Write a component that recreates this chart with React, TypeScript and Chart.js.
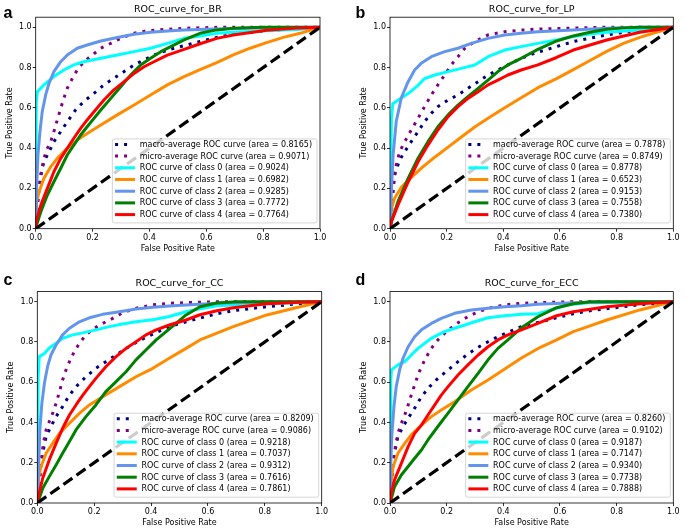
import React, { useEffect, useRef } from "react";
import { Chart, registerables } from "chart.js";

Chart.register(...registerables);

// ---------- data ----------
const TITLES = ["ROC_curve_for_BR", "ROC_curve_for_LP", "ROC_curve_for_CC", "ROC_curve_for_ECC"];
const LETTERS = ["a", "b", "c", "d"];
const TICKS = [0, 0.2, 0.4, 0.6, 0.8, 1.0];
const CURVE_NAMES = [
  "macro-average ROC curve",
  "micro-average ROC curve",
  "ROC curve of class 0",
  "ROC curve of class 1",
  "ROC curve of class 2",
  "ROC curve of class 3",
  "ROC curve of class 4",
];
const COLORS = ["navy", "purple", "aqua", "darkorange", "cornflowerblue", "green", "red"];
const DIAGONAL = [[0, 0], [1, 1]];

const BR_AUC = [0.8165, 0.9071, 0.9024, 0.6982, 0.9285, 0.7772, 0.7764];
const LP_AUC = [0.7878, 0.8749, 0.8778, 0.6523, 0.9153, 0.7558, 0.738];
const CC_AUC = [0.8209, 0.9086, 0.9218, 0.7037, 0.9312, 0.7616, 0.7861];
const ECC_AUC = [0.826, 0.9102, 0.9187, 0.7147, 0.934, 0.7738, 0.7888];

// BR
const BR_MACRO = [[0,0],[0.006,0.134],[0.018,0.267],[0.029,0.333],[0.047,0.382],[0.064,0.432],[0.088,0.482],[0.111,0.531],[0.14,0.589],[0.169,0.631],[0.205,0.672],[0.24,0.714],[0.275,0.747],[0.311,0.78],[0.346,0.813],[0.381,0.838],[0.416,0.862],[0.463,0.887],[0.522,0.909],[0.578,0.929],[0.637,0.95],[0.695,0.965],[0.812,0.983],[0.93,0.993],[1,1]];
const BR_MICRO = [[0,0],[0.006,0.101],[0.012,0.2],[0.02,0.283],[0.029,0.349],[0.041,0.399],[0.053,0.432],[0.064,0.482],[0.076,0.54],[0.088,0.598],[0.099,0.647],[0.111,0.697],[0.129,0.746],[0.146,0.788],[0.169,0.829],[0.199,0.862],[0.229,0.896],[0.264,0.92],[0.299,0.945],[0.346,0.97],[0.393,0.983],[0.463,0.99],[0.522,0.995],[0.65,1],[1,1]];
const BR_C0 = [[0,0],[0.002,0.63],[0.006,0.68],[0.029,0.714],[0.064,0.755],[0.099,0.788],[0.134,0.813],[0.169,0.829],[0.229,0.846],[0.287,0.862],[0.346,0.879],[0.404,0.896],[0.463,0.92],[0.522,0.945],[0.578,0.957],[0.637,0.97],[0.695,0.975],[0.812,0.983],[0.93,0.99],[1,1]];
const BR_C1 = [[0,0],[0.003,0.134],[0.012,0.183],[0.029,0.25],[0.053,0.308],[0.076,0.349],[0.111,0.399],[0.146,0.44],[0.181,0.473],[0.229,0.515],[0.287,0.565],[0.346,0.614],[0.404,0.664],[0.463,0.714],[0.522,0.755],[0.578,0.79],[0.637,0.825],[0.695,0.863],[0.754,0.896],[0.812,0.924],[0.871,0.95],[0.93,0.97],[1,1]];
const BR_C2 = [[0,0],[0.003,0.2],[0.008,0.366],[0.015,0.482],[0.023,0.581],[0.035,0.664],[0.047,0.722],[0.064,0.78],[0.088,0.829],[0.111,0.862],[0.146,0.896],[0.181,0.912],[0.229,0.932],[0.287,0.949],[0.346,0.965],[0.404,0.975],[0.463,0.982],[0.522,0.987],[0.6,0.99],[0.7,0.994],[0.8,0.998],[1,1]];
const BR_C3 = [[0,0],[0.003,0.018],[0.018,0.084],[0.041,0.167],[0.064,0.233],[0.088,0.3],[0.111,0.366],[0.134,0.415],[0.158,0.465],[0.181,0.506],[0.205,0.548],[0.229,0.589],[0.264,0.647],[0.299,0.705],[0.334,0.763],[0.369,0.813],[0.404,0.846],[0.44,0.879],[0.475,0.904],[0.522,0.937],[0.578,0.97],[0.637,0.987],[0.695,0.995],[0.8,1],[1,1]];
const BR_C4 = [[0,0],[0.003,0.043],[0.018,0.117],[0.041,0.2],[0.064,0.283],[0.088,0.349],[0.111,0.399],[0.134,0.449],[0.158,0.498],[0.181,0.54],[0.205,0.581],[0.24,0.639],[0.275,0.689],[0.311,0.73],[0.346,0.771],[0.381,0.804],[0.416,0.829],[0.463,0.862],[0.522,0.89],[0.578,0.918],[0.637,0.945],[0.695,0.962],[0.812,0.985],[0.93,0.997],[1,1]];

// LP
const LP_MACRO = [[0,0],[0.007,0.134],[0.016,0.266],[0.034,0.341],[0.052,0.382],[0.075,0.432],[0.099,0.482],[0.122,0.532],[0.146,0.573],[0.169,0.606],[0.205,0.639],[0.24,0.664],[0.275,0.697],[0.311,0.73],[0.346,0.763],[0.381,0.788],[0.416,0.813],[0.463,0.846],[0.51,0.871],[0.647,0.929],[0.765,0.962],[0.882,0.987],[1,1]];
const LP_MICRO = [[0,0],[0.005,0.068],[0.011,0.2],[0.019,0.3],[0.034,0.382],[0.052,0.432],[0.075,0.49],[0.099,0.548],[0.122,0.606],[0.146,0.664],[0.169,0.714],[0.193,0.763],[0.216,0.813],[0.24,0.854],[0.264,0.896],[0.299,0.929],[0.346,0.962],[0.405,0.978],[0.463,0.986],[0.522,0.991],[0.75,1],[1,1]];
const LP_C0 = [[0,0],[0.003,0.3],[0.005,0.55],[0.01,0.62],[0.028,0.638],[0.064,0.671],[0.099,0.712],[0.122,0.745],[0.158,0.763],[0.205,0.78],[0.252,0.796],[0.299,0.813],[0.346,0.854],[0.405,0.887],[0.463,0.904],[0.522,0.92],[0.588,0.937],[0.647,0.954],[0.706,0.967],[0.765,0.975],[0.882,0.987],[1,1]];
const LP_C1 = [[0,0],[0.005,0.1],[0.016,0.151],[0.04,0.205],[0.075,0.255],[0.11,0.3],[0.158,0.355],[0.205,0.405],[0.252,0.455],[0.299,0.505],[0.346,0.548],[0.405,0.6],[0.463,0.65],[0.522,0.7],[0.588,0.745],[0.647,0.79],[0.706,0.835],[0.765,0.88],[0.824,0.92],[0.882,0.95],[0.94,0.975],[1,1]];
const LP_C2 = [[0,0],[0.003,0.134],[0.011,0.366],[0.022,0.532],[0.04,0.65],[0.064,0.73],[0.087,0.788],[0.11,0.821],[0.146,0.854],[0.193,0.879],[0.24,0.896],[0.287,0.92],[0.346,0.945],[0.405,0.962],[0.463,0.97],[0.522,0.978],[0.647,0.987],[0.765,0.995],[0.882,1],[1,1]];
const LP_C3 = [[0,0],[0.005,0.035],[0.028,0.134],[0.064,0.25],[0.099,0.35],[0.134,0.432],[0.169,0.506],[0.205,0.565],[0.24,0.614],[0.275,0.656],[0.311,0.697],[0.346,0.738],[0.381,0.78],[0.416,0.813],[0.463,0.846],[0.522,0.89],[0.588,0.932],[0.647,0.957],[0.706,0.975],[0.765,0.99],[0.824,0.997],[0.882,1],[1,1]];
const LP_C4 = [[0,0],[0.005,0.035],[0.028,0.117],[0.064,0.232],[0.099,0.332],[0.134,0.415],[0.169,0.49],[0.205,0.556],[0.24,0.606],[0.275,0.647],[0.311,0.68],[0.346,0.714],[0.381,0.738],[0.416,0.763],[0.463,0.788],[0.522,0.813],[0.588,0.85],[0.647,0.887],[0.765,0.937],[0.882,0.975],[1,1]];

// CC
const CC_MACRO = [[0,0],[0.007,0.131],[0.019,0.247],[0.031,0.33],[0.048,0.38],[0.066,0.429],[0.089,0.479],[0.113,0.536],[0.142,0.586],[0.171,0.627],[0.206,0.669],[0.241,0.702],[0.277,0.735],[0.312,0.768],[0.347,0.797],[0.382,0.823],[0.418,0.846],[0.464,0.876],[0.523,0.9],[0.572,0.918],[0.631,0.94],[0.689,0.955],[0.807,0.975],[0.924,0.99],[1,1]];
const CC_MICRO = [[0,0],[0.007,0.064],[0.013,0.197],[0.021,0.296],[0.031,0.363],[0.042,0.404],[0.054,0.445],[0.066,0.495],[0.078,0.553],[0.089,0.611],[0.101,0.661],[0.113,0.702],[0.13,0.752],[0.148,0.793],[0.171,0.835],[0.2,0.868],[0.23,0.892],[0.265,0.917],[0.3,0.945],[0.347,0.967],[0.406,0.984],[0.464,0.992],[0.523,0.995],[0.65,1],[1,1]];
const CC_C0 = [[0,0],[0.003,0.627],[0.007,0.727],[0.025,0.743],[0.042,0.77],[0.066,0.793],[0.089,0.818],[0.124,0.835],[0.16,0.845],[0.206,0.86],[0.253,0.876],[0.3,0.889],[0.347,0.9],[0.406,0.91],[0.464,0.926],[0.523,0.95],[0.572,0.965],[0.631,0.98],[0.689,0.984],[0.807,0.99],[1,1]];
const CC_C1 = [[0,0],[0.005,0.131],[0.013,0.18],[0.031,0.247],[0.054,0.296],[0.078,0.346],[0.113,0.396],[0.148,0.445],[0.183,0.487],[0.23,0.528],[0.289,0.578],[0.347,0.627],[0.406,0.669],[0.464,0.719],[0.523,0.768],[0.572,0.81],[0.689,0.876],[0.807,0.934],[0.924,0.975],[1,1]];
const CC_C2 = [[0,0],[0.001,0.031],[0.005,0.197],[0.009,0.363],[0.016,0.495],[0.025,0.595],[0.036,0.677],[0.048,0.735],[0.066,0.785],[0.089,0.835],[0.113,0.868],[0.148,0.9],[0.183,0.92],[0.23,0.937],[0.289,0.95],[0.347,0.964],[0.406,0.972],[0.464,0.979],[0.523,0.984],[0.65,0.993],[0.8,0.998],[1,1]];
const CC_C3 = [[0,0],[0.005,0.015],[0.019,0.073],[0.042,0.131],[0.066,0.189],[0.089,0.247],[0.113,0.305],[0.136,0.363],[0.171,0.429],[0.206,0.487],[0.241,0.553],[0.277,0.603],[0.312,0.652],[0.347,0.711],[0.382,0.76],[0.418,0.81],[0.453,0.851],[0.488,0.892],[0.523,0.934],[0.572,0.975],[0.631,0.993],[0.7,1],[1,1]];
const CC_C4 = [[0,0],[0.005,0.04],[0.019,0.123],[0.042,0.214],[0.066,0.296],[0.089,0.371],[0.113,0.437],[0.136,0.487],[0.16,0.536],[0.183,0.578],[0.206,0.619],[0.241,0.677],[0.277,0.727],[0.312,0.768],[0.347,0.801],[0.382,0.835],[0.418,0.86],[0.464,0.884],[0.523,0.909],[0.572,0.935],[0.631,0.955],[0.689,0.97],[0.807,0.99],[0.924,0.997],[1,1]];

// ECC
const ECC_MACRO = [[0,0],[0.005,0.131],[0.016,0.247],[0.028,0.33],[0.046,0.38],[0.064,0.421],[0.087,0.471],[0.111,0.528],[0.14,0.578],[0.169,0.619],[0.205,0.661],[0.24,0.702],[0.275,0.74],[0.311,0.773],[0.346,0.801],[0.381,0.826],[0.416,0.848],[0.464,0.876],[0.522,0.897],[0.588,0.92],[0.647,0.94],[0.706,0.955],[0.765,0.965],[0.882,0.985],[1,1]];
const ECC_MICRO = [[0,0],[0.005,0.064],[0.011,0.197],[0.019,0.28],[0.028,0.346],[0.04,0.396],[0.052,0.437],[0.064,0.487],[0.075,0.536],[0.087,0.586],[0.099,0.636],[0.111,0.677],[0.129,0.727],[0.146,0.768],[0.169,0.81],[0.199,0.851],[0.228,0.884],[0.264,0.917],[0.299,0.942],[0.346,0.967],[0.405,0.984],[0.464,0.992],[0.522,0.995],[0.65,1],[1,1]];
const ECC_C0 = [[0,0],[0.003,0.611],[0.005,0.661],[0.028,0.686],[0.052,0.702],[0.075,0.735],[0.099,0.768],[0.122,0.793],[0.146,0.818],[0.169,0.835],[0.193,0.851],[0.228,0.868],[0.264,0.884],[0.299,0.9],[0.346,0.92],[0.405,0.93],[0.464,0.937],[0.522,0.94],[0.57,0.96],[0.63,0.985],[0.7,0.995],[1,1]];
const ECC_C1 = [[0,0],[0.003,0.098],[0.011,0.18],[0.028,0.247],[0.052,0.296],[0.075,0.338],[0.111,0.387],[0.146,0.429],[0.181,0.462],[0.228,0.503],[0.287,0.561],[0.346,0.611],[0.405,0.665],[0.464,0.72],[0.529,0.772],[0.588,0.81],[0.647,0.851],[0.706,0.88],[0.765,0.909],[0.882,0.959],[1,1]];
const ECC_C2 = [[0,0],[0.001,0.031],[0.003,0.197],[0.007,0.346],[0.014,0.479],[0.022,0.578],[0.034,0.661],[0.046,0.719],[0.064,0.776],[0.087,0.826],[0.111,0.86],[0.146,0.892],[0.181,0.917],[0.228,0.942],[0.287,0.959],[0.346,0.967],[0.405,0.975],[0.464,0.98],[0.522,0.987],[0.65,0.995],[0.8,1],[1,1]];
const ECC_C3 = [[0,0],[0.003,0.015],[0.016,0.081],[0.04,0.139],[0.064,0.181],[0.087,0.222],[0.111,0.263],[0.134,0.313],[0.169,0.38],[0.205,0.446],[0.24,0.512],[0.275,0.578],[0.311,0.644],[0.346,0.711],[0.381,0.768],[0.416,0.81],[0.464,0.87],[0.522,0.925],[0.588,0.97],[0.647,0.99],[0.706,1],[1,1]];
const ECC_C4 = [[0,0],[0.003,0.04],[0.016,0.115],[0.04,0.197],[0.064,0.28],[0.087,0.346],[0.111,0.387],[0.134,0.437],[0.158,0.487],[0.181,0.536],[0.205,0.578],[0.24,0.636],[0.275,0.686],[0.311,0.735],[0.346,0.776],[0.381,0.81],[0.416,0.835],[0.464,0.86],[0.522,0.892],[0.588,0.93],[0.647,0.95],[0.765,0.975],[0.882,0.99],[1,1]];

const PANEL_CURVES = [
  [BR_MACRO, BR_MICRO, BR_C0, BR_C1, BR_C2, BR_C3, BR_C4],
  [LP_MACRO, LP_MICRO, LP_C0, LP_C1, LP_C2, LP_C3, LP_C4],
  [CC_MACRO, CC_MICRO, CC_C0, CC_C1, CC_C2, CC_C3, CC_C4],
  [ECC_MACRO, ECC_MICRO, ECC_C0, ECC_C1, ECC_C2, ECC_C3, ECC_C4],
];
const PANEL_AUC = [BR_AUC, LP_AUC, CC_AUC, ECC_AUC];

// ---------- layout ----------
const FONT = "'DejaVu Sans', 'Liberation Sans', sans-serif";
const CW = 342;
const CH = 264;
const YW = 31; // y-axis box width
const XH = 25; // x-axis box height
const TITLE_FS = 9.5;
// canvas position and chart-area edges (canvas-relative)
const LAYOUT = [
  { left: 0, top: 0, L: 35.7, R: 320, T: 17.2, B: 228.7, tcy: 9.3, lx: 3.5, ly: 4.5 },
  { left: 343, top: 0, L: 47, R: 330.3, T: 17.2, B: 228.7, tcy: 9.3, lx: 355.5, ly: 4.5 },
  { left: 0, top: 265, L: 37.3, R: 321.7, T: 26.6, B: 238, tcy: 19, lx: 3.5, ly: 271.5 },
  { left: 343, top: 265, L: 47, R: 330.3, T: 26.6, B: 238, tcy: 19, lx: 355.5, ly: 271.5 },
];

const framePlugin = {
  id: "frameAndLegend",
  afterDatasetsDraw(chart: any) {
    const ctx = chart.ctx;
    const ca = chart.chartArea;
    ctx.save();
    // spines
    ctx.strokeStyle = "#000";
    ctx.lineWidth = 0.8;
    ctx.setLineDash([]);
    ctx.strokeRect(ca.left, ca.top, ca.right - ca.left, ca.bottom - ca.top);

    // legend
    const items = chart.data.datasets.filter((d: any) => d.label);
    ctx.font = `8px ${FONT}`;
    const maxW = Math.max(...items.map((d: any) => ctx.measureText(d.label).width));
    const rowH = 11.7;
    const boxW = 27.4 + maxW + 5;
    const boxH = 5.5 + (items.length - 1) * rowH + 8.3;
    const right = ca.right - 3;
    const bottom = ca.bottom - 5.8;
    const left = right - boxW;
    const top = bottom - boxH;
    const r = 2;
    ctx.beginPath();
    ctx.moveTo(left + r, top);
    ctx.lineTo(right - r, top);
    ctx.arcTo(right, top, right, top + r, r);
    ctx.lineTo(right, bottom - r);
    ctx.arcTo(right, bottom, right - r, bottom, r);
    ctx.lineTo(left + r, bottom);
    ctx.arcTo(left, bottom, left, bottom - r, r);
    ctx.lineTo(left, top + r);
    ctx.arcTo(left, top, left + r, top, r);
    ctx.closePath();
    ctx.fillStyle = "rgba(255,255,255,0.8)";
    ctx.fill();
    ctx.strokeStyle = "#cccccc";
    ctx.lineWidth = 0.8;
    ctx.stroke();

    items.forEach((d: any, i: number) => {
      const cy = top + 5.5 + i * rowH;
      const dotted = d.borderDash && d.borderDash.length > 0;
      ctx.beginPath();
      ctx.setLineDash(dotted ? d.borderDash : []);
      ctx.lineCap = "butt";
      ctx.strokeStyle = d.borderColor;
      ctx.lineWidth = 3;
      ctx.moveTo(left + 2.7, cy);
      ctx.lineTo(left + 2.7 + (dotted ? 13 : 20), cy);
      ctx.stroke();
      ctx.setLineDash([]);
      ctx.fillStyle = "#000";
      ctx.textBaseline = "middle";
      ctx.textAlign = "left";
      ctx.fillText(d.label, left + 27.4, cy + 0.5);
    });
    ctx.restore();
  },
};

function RocPanel({ idx }: { idx: number }) {
  const ref = useRef<HTMLCanvasElement | null>(null);
  useEffect(() => {
    const lay = LAYOUT[idx];
    const curves = PANEL_CURVES[idx];
    const auc = PANEL_AUC[idx];
    const titleLH = TITLE_FS * 1.2;
    const datasets: any[] = curves.map((pts, i) => ({
      label: `${CURVE_NAMES[i]} (area = ${auc[i].toFixed(4)})`,
      data: pts.map(([x, y]) => ({ x, y })),
      borderColor: COLORS[i],
      backgroundColor: COLORS[i],
      borderWidth: 3,
      borderDash: i < 2 ? [3, 6] : [],
      borderCapStyle: "butt",
      borderJoinStyle: "round",
      pointRadius: 0,
      pointHoverRadius: 0,
      tension: 0,
      fill: false,
      order: 20 - i,
    }));
    datasets.push({
      label: "",
      data: DIAGONAL.map(([x, y]) => ({ x, y })),
      borderColor: "#000",
      borderWidth: 3.2,
      borderDash: [11, 5],
      borderCapStyle: "butt",
      pointRadius: 0,
      fill: false,
      order: 0,
    });

    const tickFont = { family: FONT, size: 8 };
    const chart = new Chart(ref.current as HTMLCanvasElement, {
      type: "line",
      data: { datasets },
      plugins: [framePlugin],
      options: {
        animation: false,
        responsive: false,
        devicePixelRatio: 1,
        events: [],
        layout: {
          padding: {
            left: lay.L - YW,
            right: CW - lay.R,
            top: lay.tcy - titleLH / 2,
            bottom: CH - lay.B - XH,
          },
        },
        plugins: {
          legend: { display: false },
          tooltip: { enabled: false },
          title: {
            display: true,
            text: TITLES[idx],
            fullSize: false,
            color: "#000",
            font: { family: FONT, size: TITLE_FS, weight: "normal", lineHeight: 1.2 },
            padding: { top: 0, bottom: lay.T - lay.tcy - titleLH / 2 },
          },
        },
        scales: {
          x: {
            type: "linear",
            min: 0,
            max: 1,
            afterBuildTicks: (s: any) => {
              s.ticks = TICKS.map((v) => ({ value: v }));
            },
            afterFit: (s: any) => {
              s.height = XH;
            },
            ticks: {
              callback: (v: any) => Number(v).toFixed(1),
              font: tickFont,
              color: "#000",
              padding: 1,
              maxRotation: 0,
              autoSkip: false,
            },
            grid: {
              display: true,
              drawOnChartArea: false,
              drawTicks: true,
              tickLength: 3,
              tickWidth: 0.8,
              tickColor: "#000",
            },
            border: { display: false },
            title: {
              display: true,
              text: "False Positive Rate",
              color: "#000",
              font: { family: FONT, size: 8 },
              padding: 0,
            },
          },
          y: {
            type: "linear",
            min: 0,
            max: 1.05,
            afterBuildTicks: (s: any) => {
              s.ticks = TICKS.map((v) => ({ value: v }));
            },
            afterFit: (s: any) => {
              s.width = YW;
            },
            ticks: {
              callback: (v: any) => Number(v).toFixed(1),
              font: tickFont,
              color: "#000",
              padding: 1,
              autoSkip: false,
            },
            grid: {
              display: true,
              drawOnChartArea: false,
              drawTicks: true,
              tickLength: 3,
              tickWidth: 0.8,
              tickColor: "#000",
            },
            border: { display: false },
            title: {
              display: true,
              text: "True Positive Rate",
              color: "#000",
              font: { family: FONT, size: 8 },
              padding: 0,
            },
          },
        },
      } as any,
    });
    return () => chart.destroy();
  }, [idx]);

  const lay = LAYOUT[idx];
  return (
    <>
      <canvas
        ref={ref}
        width={CW}
        height={CH}
        style={{ position: "absolute", left: lay.left, top: lay.top, width: CW, height: CH }}
      />
      <div
        style={{
          position: "absolute",
          left: lay.lx,
          top: lay.ly,
          font: "bold 16px 'Liberation Sans', Arial, sans-serif",
          lineHeight: "16px",
          color: "#000",
        }}
      >
        {LETTERS[idx]}
      </div>
    </>
  );
}

export default function App() {
  return (
    <div
      style={{
        position: "fixed",
        left: 0,
        top: 0,
        width: 685,
        height: 529,
        background: "#fff",
        overflow: "hidden",
      }}
    >
      {[0, 1, 2, 3].map((i) => (
        <RocPanel key={i} idx={i} />
      ))}
    </div>
  );
}
